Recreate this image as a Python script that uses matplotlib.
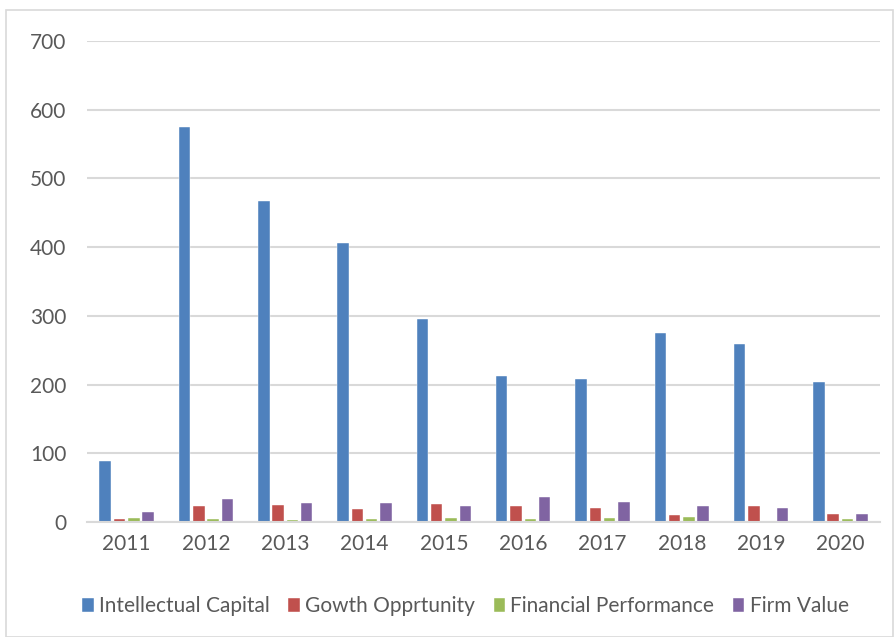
import matplotlib.pyplot as plt
from matplotlib.patches import Rectangle
import numpy as np

plt.rcParams['font.family'] = ['Lato', 'DejaVu Sans']

anos = ['2011', '2012', '2013', '2014', '2015', '2016', '2017', '2018', '2019', '2020']
intelectual = [89, 575, 467, 406, 296, 213, 208, 275, 259, 204]
crescimento = [4, 23, 25, 19, 26, 24, 21, 10, 23, 11]
financeiro = [6, 4, 3, 4, 6, 5, 6, 7, 2, 4]
valor = [15, 33, 27, 28, 24, 36, 29, 24, 20, 12]

series = [
    ("Intellectual Capital", intelectual, '#4F81BD'),
    ("Gowth Opprtunity", crescimento, '#C0504D'),
    ("Financial Performance", financeiro, '#9BBB59'),
    ("Firm Value", valor, '#8064A2'),
]

fig = plt.figure(figsize=(8.95, 6.37), dpi=100)
ax = fig.add_axes([87 / 895, 1 - 522 / 637, (880 - 87) / 895, (522 - 41) / 637])

x = np.arange(len(anos))
largura = 0.145
passo = 0.18
for i, (nome, valores, cor) in enumerate(series):
    ax.bar(x + (i - 1.5) * passo, valores, largura, color=cor, label=nome,
           edgecolor='white', linewidth=0.3)

ax.set_ylim(0, 700)
ax.set_xlim(-0.5, len(anos) - 0.5)
ax.set_yticks(range(0, 701, 100))
ax.set_xticks(x)
ax.set_xticklabels(anos)
ax.yaxis.grid(True, color='#D9D9D9', linewidth=1.5)
ax.set_axisbelow(True)
for s in ['top', 'right', 'left']:
    ax.spines[s].set_visible(False)
ax.spines['bottom'].set_color('#D9D9D9')
ax.spines['bottom'].set_linewidth(1.5)
ax.tick_params(axis='both', length=0, labelsize=15, colors='#595959')
ax.tick_params(axis='y', pad=15)
ax.tick_params(axis='x', pad=9)

fig.legend(loc='center', bbox_to_anchor=(0.52, 1 - 606 / 637), ncol=4, frameon=False,
           fontsize=15, handlelength=0.55, handleheight=0.65, handletextpad=0.25,
           columnspacing=0.9, labelcolor='#595959')

fig.patches.append(Rectangle((6 / 895, 0), (893 - 6) / 895, 1 - 10 / 637,
                             transform=fig.transFigure, fill=False,
                             edgecolor='#D9D9D9', linewidth=1.2))

fig.savefig('out.png', dpi=100)
